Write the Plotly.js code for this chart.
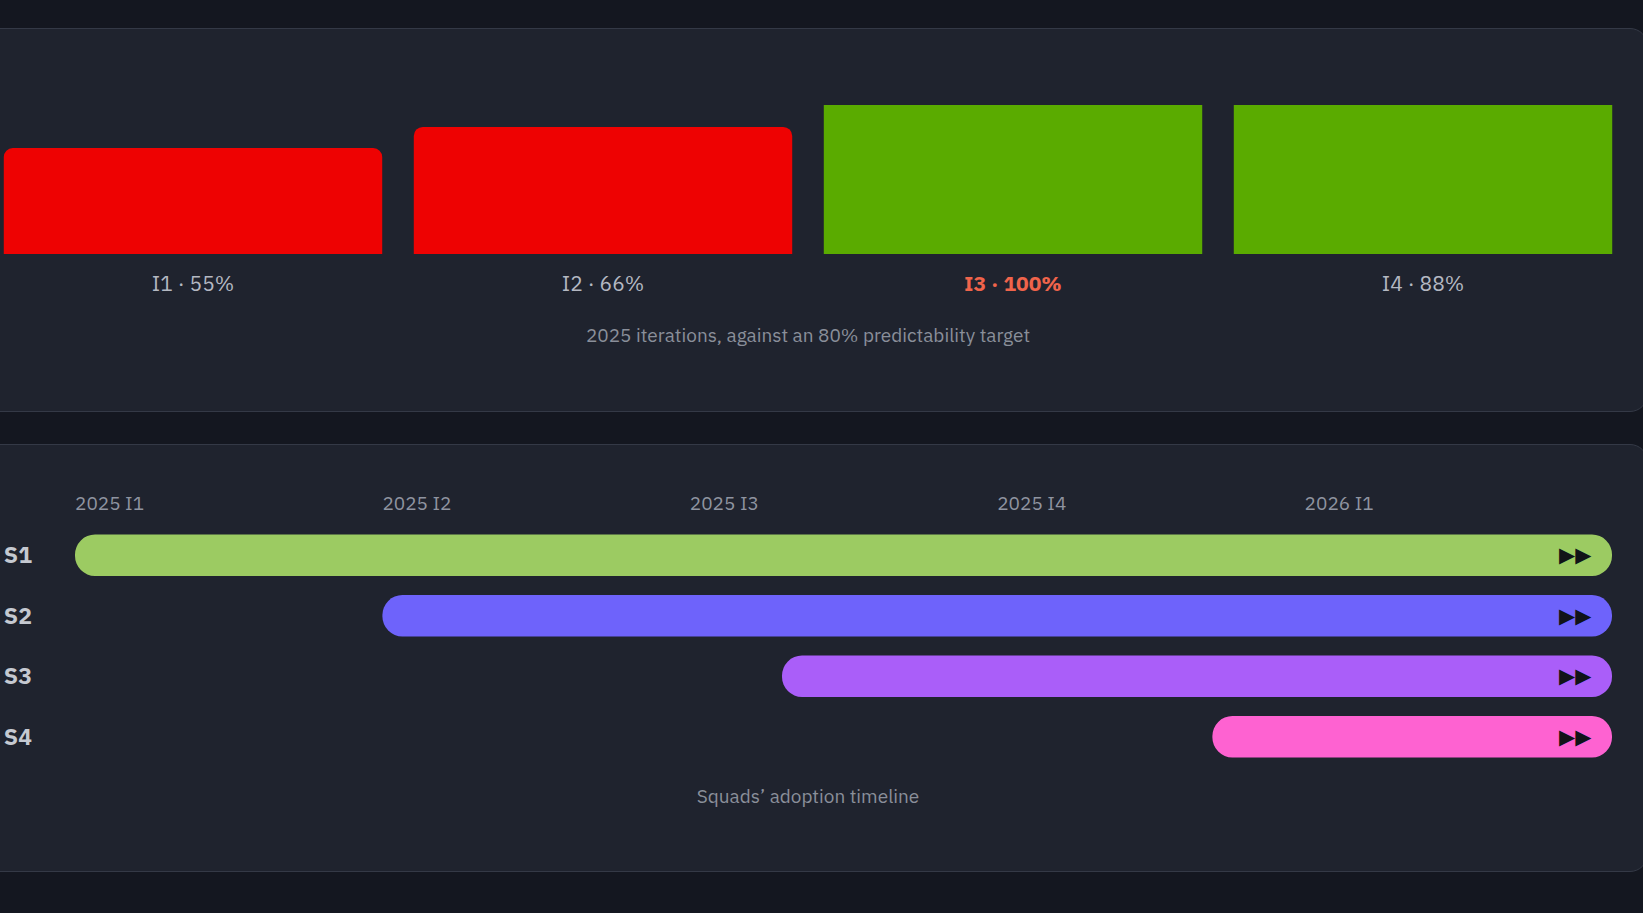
<!DOCTYPE html>
<html>
<head>
<meta charset="utf-8">
<script src="https://cdn.plot.ly/plotly-3.0.1.min.js"></script>
<style>
  html, body { margin: 0; padding: 0; background: #141720; width: 1643px; height: 913px; overflow: hidden; }
  .card { position: absolute; left: -30px; width: 1678px; background: #1f232e; border: 1px solid #343946; border-radius: 18px; box-sizing: border-box; }
  .chart { position: absolute; left: -12px; width: 1640px; }
</style>
</head>
<body>
<div class="card" style="top:28px;height:384px"></div>
<div class="card" style="top:444px;height:428px"></div>
<div id="predictability" class="chart" style="top:0;height:412px"></div>
<div id="adoption" class="chart" style="top:444px;height:428px"></div>
<script>
// iterations vs the predictability target
const iterations = ["I1", "I2", "I3", "I4"];
const predictability = [55, 66, 100, 88];
const target = 80;
const highlight = "I3";

// squads adoption, in iterations counted from 2025 I1
const squads = ["S1", "S2", "S3", "S4"];
const adoptStart = [0, 1, 2.3, 3.7];
const adoptEnd = [5, 5, 5, 5];
const squadColors = ["#9ccb62", "#6e63fb", "#aa5ef9", "#fe62d1"];
const periodTicks = [0, 1, 2, 3, 4];
const periodLabels = ["2025 I1", "2025 I2", "2025 I3", "2025 I4", "2026 I1"];

const font = "IBM Plex Sans, Roboto, sans-serif";
const config = {displayModeBar: false, staticPlot: true};

const tickText = iterations.map((it, i) => {
  const t = it + " · " + predictability[i] + "%";
  return it === highlight ? "<b><span style='color:#f0644b'>" + t + "</span></b>" : t;
});

Plotly.newPlot("predictability", [{
  type: "bar",
  x: iterations,
  y: predictability,
  marker: {
    color: predictability.map(v => v >= target ? "#5aab00" : "#ee0202"),
    cornerradius: 9
  }
}], {
  width: 1640, height: 412,
  margin: {l: 0, r: 0, t: 105, b: 158},
  paper_bgcolor: "rgba(0,0,0,0)",
  plot_bgcolor: "rgba(0,0,0,0)",
  font: {family: font, color: "#b4b8c2"},
  bargap: 0.077,
  showlegend: false,
  title: {
    text: "2025 iterations, against an 80% predictability target",
    font: {size: 19, color: "#8a8f9a"},
    x: 0.5, xref: "container", xanchor: "center",
    y: 1 - 335 / 412, yref: "container", yanchor: "middle"
  },
  xaxis: {
    type: "category",
    tickvals: iterations,
    ticktext: tickText,
    tickfont: {size: 21, color: "#b4b8c2"},
    showgrid: false, zeroline: false, showline: false, ticks: "",
    ticklabelstandoff: 15
  },
  yaxis: {visible: false, range: [0, 77.4]}
}, config);

// a floating bar (with a base) gets all four corners rounded: a pill
Plotly.newPlot("adoption", [{
  type: "bar",
  orientation: "h",
  y: squads,
  base: adoptStart,
  x: adoptEnd.map((e, i) => e - adoptStart[i]),
  marker: {color: squadColors, cornerradius: "50%"},
  text: squads.map(() => "▶▶\u00a0\u00a0"),
  textposition: "inside",
  insidetextanchor: "end",
  textangle: 0,
  textfont: {family: "DejaVu Sans", size: 21, color: "#111318"}
}], {
  width: 1640, height: 428,
  margin: {l: 87, r: 16, t: 81, b: 105},
  paper_bgcolor: "rgba(0,0,0,0)",
  plot_bgcolor: "rgba(0,0,0,0)",
  font: {family: font, color: "#b4b8c2"},
  bargap: 0.316,
  showlegend: false,
  title: {
    text: "Squads’ adoption timeline",
    font: {size: 19, color: "#8a8f9a"},
    x: 0.5, xref: "container", xanchor: "center",
    y: 1 - 352 / 428, yref: "container", yanchor: "middle"
  },
  xaxis: {
    range: [0, 5],
    side: "top",
    tickvals: periodTicks,
    ticktext: periodLabels,
    ticklabelposition: "outside right",
    ticklabelstandoff: 10,
    tickfont: {size: 19, color: "#8f94a0"},
    showgrid: false, zeroline: false, showline: false, ticks: ""
  },
  yaxis: {
    type: "category",
    categoryarray: squads,
    autorange: "reversed",
    tickfont: {size: 23, color: "#c5c9d1", weight: "bold"},
    ticklabelstandoff: 42,
    showgrid: false, zeroline: false, showline: false, ticks: ""
  }
}, config);
</script>
</body>
</html>
